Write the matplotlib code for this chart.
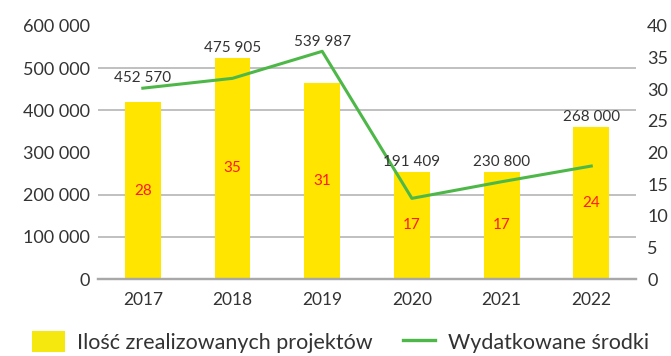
import numpy as np
import matplotlib.pyplot as plt
from matplotlib.patches import Patch
from matplotlib.lines import Line2D
from matplotlib.ticker import FuncFormatter

# dane
years = ['2017', '2018', '2019', '2020', '2021', '2022']
projects = [28, 35, 31, 17, 17, 24]
spent = [452570, 475905, 539987, 191409, 230800, 268000]

plt.rcParams['font.family'] = ['Lato', 'DejaVu Sans']
text_col = '#333333'
bar_col = '#FFE500'
line_col = '#4DB848'

fig = plt.figure(figsize=(6.71, 3.56), dpi=100)
ax = fig.add_axes([0.146, 0.216, 0.802, 0.711])
ax2 = ax.twinx()

x = np.arange(len(years))

# slupki na skali 0-40 (prawa os), linia na skali 0-600 000 (lewa os)
ax.bar(x, projects, width=0.40, color=bar_col, zorder=2)
ax.set_ylim(0, 40)
ax.set_xlim(-0.5, len(years) - 0.5)
ax.yaxis.tick_right()
ax.set_yticks(np.arange(0, 41, 5))
ax.set_yticks(np.linspace(0, 40, 7), minor=True)
ax.grid(which='minor', axis='y', color='#b5b5b5', lw=1.2, zorder=0)
ax.tick_params(axis='y', which='both', length=0, pad=8, labelsize=13, labelcolor=text_col)
ax.set_xticks(x)
ax.set_xticklabels(years)
ax.tick_params(axis='x', length=0, pad=9, labelsize=12.5, labelcolor=text_col)

ax2.plot(x, spent, color=line_col, lw=2.2, zorder=3)
ax2.set_ylim(0, 600000)
ax2.yaxis.tick_left()
ax2.set_yticks(np.arange(0, 600001, 100000))
ax2.yaxis.set_major_formatter(FuncFormatter(lambda v, p: f'{int(v):,}'.replace(',', ' ')))
ax2.tick_params(axis='y', length=0, pad=6, labelsize=13, labelcolor=text_col)

for a in (ax, ax2):
    for s in ['top', 'left', 'right']:
        a.spines[s].set_visible(False)
    a.spines['bottom'].set_color('#a8a8a8')
    a.spines['bottom'].set_linewidth(1.6)

# liczba projektow w srodku slupka
for i, n in enumerate(projects):
    ax.text(i, n / 2, str(n), ha='center', va='center', color='#FF1A1A', fontsize=11)

# kwoty nad linia albo nad slupkiem (co wyzej)
scale = 600000 / 40
for i, v in enumerate(spent):
    top = max(v, projects[i] * scale)
    ax2.annotate(f'{v:,}'.replace(',', ' '), (i, top), xytext=(0, 2),
                 textcoords='offset points', ha='center', va='bottom',
                 fontsize=11, color=text_col)

handles = [Patch(facecolor='#F5E80F', edgecolor='none'),
           Line2D([], [], color=line_col, lw=2.4)]
labels = ['Ilość zrealizowanych projektów', 'Wydatkowane środki']
fig.legend(handles, labels, loc='center', bbox_to_anchor=(0.508, 0.04), ncol=2,
           frameon=False, fontsize=15.5, labelcolor=text_col, handlelength=1.5,
           handleheight=1.1, handletextpad=0.6, columnspacing=1.4)

fig.savefig('out.png', dpi=100)
